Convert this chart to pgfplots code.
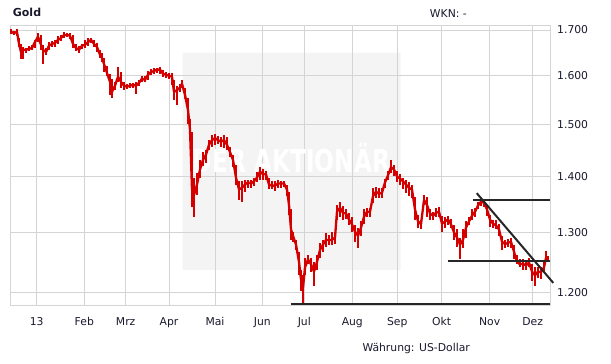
\documentclass[border=0pt]{standalone}
\usepackage{pgfplots}
\pgfplotsset{compat=1.18}
\usepackage{pgfplotstable}
\usepackage{fontspec}
\setmainfont{DejaVu Sans}
\definecolor{goldred}{RGB}{212,0,0}
\definecolor{gridgray}{RGB}{212,212,212}
\definecolor{txt}{RGB}{25,25,45}
\definecolor{wm}{RGB}{244,244,244}

\pgfplotstableread{
x c h l
11 1696 1702 1691
14 1693 1698 1689
17 1696 1702 1687
19 1669 1682 1662
21 1651 1669 1636
23 1656 1662 1636
26 1656 1660 1649
29 1658 1665 1654
32 1660 1667 1656
35 1673 1678 1660
38 1685 1693 1673
41 1667 1689 1656
43 1656 1667 1625
46 1651 1660 1645
49 1665 1673 1656
52 1669 1676 1662
55 1671 1678 1662
58 1678 1687 1669
61 1682 1689 1676
64 1689 1696 1682
67 1689 1693 1685
70 1687 1693 1680
73 1669 1689 1660
76 1660 1669 1654
79 1656 1665 1649
82 1665 1669 1658
85 1667 1678 1660
88 1673 1682 1665
91 1678 1682 1671
94 1669 1678 1662
97 1662 1671 1651
100 1645 1656 1638
102 1638 1649 1630
104 1625 1638 1608
107 1606 1621 1600
110 1587 1604 1560
112 1566 1592 1554
115 1579 1587 1570
118 1598 1619 1587
121 1587 1608 1575
124 1579 1587 1570
127 1577 1583 1572
130 1579 1585 1575
133 1581 1585 1575
136 1579 1587 1562
139 1585 1591 1579
142 1594 1600 1587
145 1591 1600 1587
148 1602 1610 1591
151 1608 1615 1602
154 1610 1617 1604
157 1613 1617 1606
160 1613 1619 1604
163 1604 1613 1598
166 1602 1608 1596
169 1600 1606 1594
172 1598 1606 1581
174 1566 1591 1549
177 1570 1579 1539
180 1575 1583 1566
182 1583 1591 1575
185 1560 1575 1551
188 1529 1553 1500
190 1490 1510 1476
192 1376 1484 1345
194 1366 1398 1326
197 1385 1407 1366
200 1413 1431 1398
203 1431 1446 1420
206 1441 1450 1426
209 1460 1469 1450
212 1469 1479 1456
215 1473 1481 1460
218 1469 1477 1462
221 1466 1475 1456
224 1469 1479 1454
227 1460 1475 1450
230 1446 1456 1437
233 1431 1441 1418
236 1398 1422 1385
239 1376 1391 1357
242 1379 1391 1354
245 1385 1394 1372
248 1389 1394 1379
251 1387 1394 1379
254 1391 1398 1383
257 1398 1409 1389
260 1409 1418 1394
263 1404 1413 1394
266 1404 1411 1394
269 1385 1398 1376
272 1383 1392 1376
275 1383 1392 1374
278 1387 1394 1379
281 1387 1392 1378
284 1387 1391 1381
287 1376 1385 1364
289 1348 1372 1331
291 1305 1340 1287
293 1294 1301 1284
296 1279 1287 1270
299 1250 1267 1229
301 1221 1237 1202
303 1208 1229 1184
305 1241 1257 1229
308 1254 1262 1246
311 1246 1257 1233
314 1234 1249 1210
317 1250 1262 1237
320 1270 1282 1257
323 1279 1287 1267
326 1287 1298 1275
329 1287 1296 1279
332 1287 1301 1279
335 1291 1301 1280
337 1336 1348 1322
340 1343 1354 1326
343 1334 1347 1322
346 1333 1340 1324
349 1322 1333 1312
352 1314 1326 1301
355 1301 1312 1284
358 1294 1308 1274
361 1308 1319 1294
364 1327 1340 1315
367 1336 1343 1326
370 1336 1343 1326
373 1364 1379 1352
376 1372 1381 1361
379 1368 1379 1361
382 1370 1378 1361
385 1389 1396 1379
388 1402 1411 1394
391 1417 1431 1407
394 1413 1422 1400
397 1400 1411 1389
400 1396 1404 1385
403 1391 1398 1376
406 1385 1394 1370
409 1379 1389 1364
412 1376 1385 1361
415 1340 1363 1322
418 1319 1331 1308
421 1314 1322 1305
424 1357 1366 1348
427 1348 1363 1327
430 1333 1340 1322
433 1329 1336 1322
436 1334 1343 1326
439 1336 1345 1327
442 1315 1329 1301
445 1319 1327 1308
448 1322 1329 1312
451 1314 1324 1308
454 1300 1312 1287
457 1291 1305 1275
460 1279 1291 1254
463 1287 1305 1274
466 1308 1319 1291
469 1319 1326 1312
472 1329 1340 1322
475 1336 1343 1327
478 1347 1354 1340
481 1354 1361 1347
484 1352 1357 1345
487 1340 1348 1329
490 1322 1331 1310
493 1315 1322 1308
496 1312 1321 1305
499 1305 1315 1294
502 1284 1294 1270
505 1280 1287 1274
508 1282 1289 1275
511 1284 1291 1274
514 1267 1279 1254
517 1250 1262 1246
520 1246 1254 1241
523 1247 1254 1237
526 1244 1252 1237
529 1249 1257 1241
532 1234 1246 1218
535 1228 1241 1211
538 1234 1242 1224
541 1233 1241 1222
544 1241 1249 1233
546 1257 1268 1249
548 1254 1260 1249
}\gold

\begin{document}
\begin{tikzpicture}
\begin{axis}[
  set layers=standard,
  scale only axis, width=540bp, height=280.5bp,
  at={(0,0)}, anchor=south west,
  xmin=10, xmax=550,
  ymode=log, ymin=1179.8, ymax=1711.3,
  axis line style={draw=gridgray, line width=0.8bp},
  grid=major, grid style={draw=gridgray, line width=0.8bp},
  tick style={draw=none}, major tick length=0pt, minor tick length=0pt,
  xtick={36.7,84.3,125.7,169,215,262.3,304.3,352.3,397.3,441.7,489.7,532.7},
  xticklabels={13,Feb,Mrz,Apr,Mai,Jun,Jul,Aug,Sep,Okt,Nov,Dez},
  ytick={1200,1300,1400,1500,1600,1700},
  yticklabels={1.200,1.300,1.400,1.500,1.600,1.700},
  yticklabel pos=right,
  ticklabel style={font=\fontsize{10.8bp}{13bp}\selectfont, text=txt},
  xticklabel style={anchor=base, yshift=-19.5bp, inner sep=0pt},
  yticklabel style={anchor=west, xshift=7bp, inner sep=0pt},
  clip=false,
]
\addplot[draw=none, fill=wm, on layer=axis background, forget plot]
  coordinates {(182.7,1236.7) (400.7,1236.7) (400.7,1649.6) (182.7,1649.6) (182.7,1236.7)};
\node[text=white, font=\bfseries\fontsize{31.5bp}{34bp}\selectfont, xscale=0.74, anchor=base, inner sep=0pt]
  at (axis cs:291.5,1406.4) {DER AKTIONÄR};
\addplot[draw=none, mark=none, forget plot,
  error bars/.cd, y dir=both, y explicit, error mark=none,
  error bar style={draw=goldred, line width=1.1bp}]
  table[x=x, y=c, y error plus expr=\thisrow{h}-\thisrow{c}, y error minus expr=\thisrow{c}-\thisrow{l}] {\gold};
\addplot[goldred, line width=2.3bp, mark=none, line join=bevel] table[x=x, y=c] {\gold};
\addplot[black!85, line width=2bp, mark=none] coordinates {(472.5,1357) (550,1357)};
\addplot[black!85, line width=2bp, mark=none] coordinates {(447.7,1252) (550,1252)};
\addplot[black!85, line width=2bp, mark=none] coordinates {(290.6,1182) (550,1182)};
\addplot[black!85, line width=2bp, mark=none] coordinates {(476.7,1369.4) (553.3,1215.7)};
\end{axis}
\node[anchor=west, inner sep=0pt, text=txt, font=\bfseries\fontsize{11bp}{13bp}\selectfont] at (2.7bp,293.2bp) {Gold};
\node[anchor=east, inner sep=0pt, text=txt, font=\fontsize{10.8bp}{13bp}\selectfont] at (457bp,291.5bp) {WKN: -};
\node[anchor=base east, inner sep=0pt, text=txt, font=\fontsize{10.8bp}{13bp}\selectfont] at (460bp,-45.5bp) {Währung: US-Dollar};
\useasboundingbox (-10bp,-58.5bp) rectangle (601bp,305.5bp);
\end{tikzpicture}
\end{document}
